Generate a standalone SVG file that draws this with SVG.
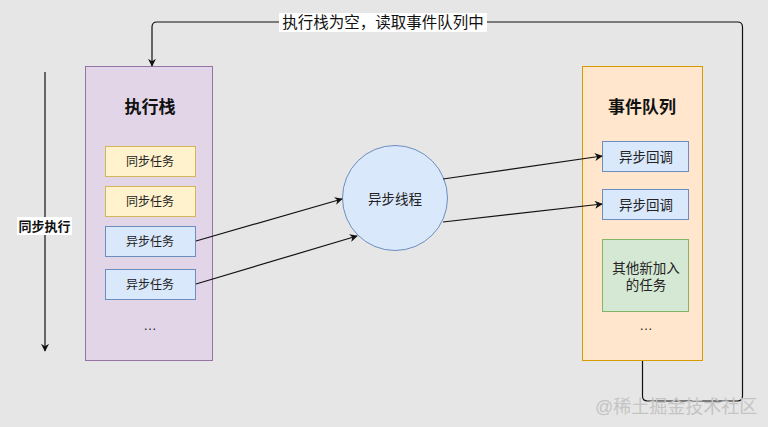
<svg xmlns="http://www.w3.org/2000/svg" width="768" height="427" viewBox="0 0 768 427">
<defs>
<style>
.t{font-family:"Liberation Sans","Noto Sans CJK SC",sans-serif;fill:#222;text-anchor:middle;dominant-baseline:central}
.title{font-size:17px;font-weight:bold;fill:#111}
.s12{font-size:12px}
.s14{font-size:13.5px}
.line{fill:none;stroke:#111;stroke-width:1.2}
.yel{fill:#fff2cc;stroke:#d6b656}
.blu{fill:#dae8fc;stroke:#6c8ebf}
</style>
<marker id="ah" viewBox="0 0 10 10" refX="9" refY="5" markerWidth="8" markerHeight="8" markerUnits="userSpaceOnUse" orient="auto">
<path d="M0,0 L10,5 L0,10 L3,5 Z" fill="#111"/>
</marker>
</defs>
<rect width="768" height="427" fill="#e6e6e6"/>

<g id="stack">
<rect x="85.5" y="66.5" width="127" height="294" fill="#e1d5e7" stroke="#9673a6"/>
<text class="t title" x="150" y="107">执行栈</text>
</g>
<g id="sync1"><rect x="105.5" y="146.5" width="90" height="30" class="yel"/><text class="t s12" x="150" y="162">同步任务</text></g>
<g id="sync2"><rect x="105.5" y="186.5" width="90" height="30" class="yel"/><text class="t s12" x="150" y="202">同步任务</text></g>
<g id="async1"><rect x="105.5" y="226.5" width="90" height="30" class="blu"/><text class="t s12" x="150" y="242">异步任务</text></g>
<g id="async2"><rect x="105.5" y="269.5" width="90" height="30" class="blu"/><text class="t s12" x="150" y="285">异步任务</text></g>
<g id="stack-more"><text class="t s14" x="150" y="325">…</text></g>

<g id="queue">
<rect x="582.5" y="66.5" width="120" height="294" fill="#ffe6cc" stroke="#d79b00"/>
<text class="t title" x="642" y="107">事件队列</text>
</g>
<g id="cb1"><rect x="602.5" y="141.5" width="86" height="30" class="blu"/><text class="t s14" x="646" y="157">异步回调</text></g>
<g id="cb2"><rect x="602.5" y="189.5" width="86" height="30" class="blu"/><text class="t s14" x="646" y="205">异步回调</text></g>
<g id="others"><rect x="602.5" y="239.5" width="86" height="72" fill="#d5e8d4" stroke="#82b366"/><text class="t s14" x="646" y="268">其他新加入</text><text class="t s14" x="646" y="285">的任务</text></g>
<g id="queue-more"><text class="t s14" x="646" y="325">…</text></g>

<g id="thread">
<circle cx="395" cy="198" r="52.5" fill="#dae8fc" stroke="#6c8ebf"/>
<text class="t s14" x="395" y="199">异步线程</text>
</g>

<g id="connectors">
<path class="line" d="M196,241 L342,199" marker-end="url(#ah)"/>
<path class="line" d="M196,284 L357,236" marker-end="url(#ah)"/>
<path class="line" d="M443,179 L602,156" marker-end="url(#ah)"/>
<path class="line" d="M443,222 L602,204" marker-end="url(#ah)"/>
<path class="line" d="M45,72 L45,351" marker-end="url(#ah)"/>
<path class="line" d="M642.5,361 V396 Q642.5,401 647.5,401 H737.5 Q742.5,401 742.5,396 V27 Q742.5,22 737.5,22 H157 Q152,22 152,27 V66" marker-end="url(#ah)"/>
<rect x="279" y="13" width="208" height="19" fill="#ffffff"/>
<text class="t" x="383" y="22.5" style="font-size:15.5px;fill:#111">执行栈为空，读取事件队列中</text>
<rect x="17" y="217" width="55" height="18" fill="#ffffff"/>
<text class="t" x="44.5" y="226" style="font-size:13px;font-weight:bold;fill:#111">同步执行</text>
</g>

<text x="595" y="407" style="font-family:'Liberation Sans','Noto Sans CJK SC',sans-serif;font-size:18px;fill:#c4c4c4;dominant-baseline:central">@稀土掘金技术社区</text>
</svg>
